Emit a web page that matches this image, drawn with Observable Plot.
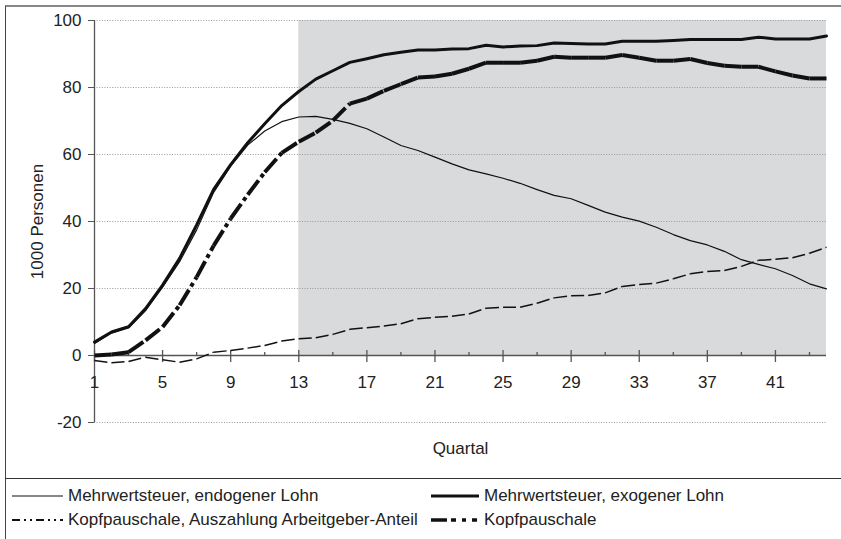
<!DOCTYPE html>
<html>
<head>
<meta charset="utf-8">
<script src="https://cdn.jsdelivr.net/npm/d3@7"></script>
<script src="https://cdn.jsdelivr.net/npm/@observablehq/plot@0.6"></script>
<style>
  html, body { margin: 0; padding: 0; background: #fff; width: 841px; height: 539px; overflow: hidden; }
  body { position: relative; font-family: "Liberation Sans", Arial, sans-serif; color: #222; }
  #chart { position: absolute; left: 0; top: 0; }
  #frame { position: absolute; left: 5px; top: 5px; width: 860px; height: 560px;
           border-top: 2px solid #888; border-left: 1.5px solid #444; box-sizing: border-box; pointer-events: none; }
  #sep { position: absolute; left: 5px; top: 478px; width: 860px; border-top: 1.5px solid #333; }
  .leg { position: absolute; display: flex; align-items: center; font-size: 17px; white-space: nowrap; }
  .leg svg { display: block; margin-right: 4px; }
</style>
</head>
<body>
<div id="chart"></div>
<div id="frame"></div>
<div id="sep"></div>
<div id="legend"></div>
<script>
// ---- data ----
const quarters = d3.range(1, 45); // Quartal 1..44
const mwstEndogen = [3.6, 6.7, 8.2, 13.4, 20.4, 28, 37.5, 48.7, 56.5, 62.8, 67, 69.8, 71.2, 71.4, 70.5, 69.3,
  67.7, 65.2, 62.7, 61.2, 59.2, 57.2, 55.4, 54.2, 52.9, 51.4, 49.5, 47.8, 46.8, 44.8, 42.8, 41.3, 40.1, 38.3,
  36.1, 34.3, 33, 31.1, 28.6, 27.2, 25.9, 23.9, 21.4, 19.9];
const mwstExogen = [4, 7, 8.6, 14, 21, 29, 39, 49.6, 57, 63.5, 69.2, 74.6, 78.8, 82.5, 85, 87.5,
  88.6, 89.8, 90.5, 91.2, 91.2, 91.5, 91.6, 92.6, 92.1, 92.4, 92.5, 93.3, 93.1, 93, 93, 93.8, 93.8, 93.8,
  94, 94.3, 94.3, 94.3, 94.3, 95, 94.5, 94.5, 94.5, 95.4];
const kopfAuszahlung = [-1.5, -2.2, -1.8, -0.5, -1.3, -2, -1, 1, 1.5, 2.2, 3, 4.3, 5, 5.3, 6.3, 7.8,
  8.3, 8.8, 9.5, 11, 11.4, 11.7, 12.4, 14.1, 14.4, 14.4, 15.6, 17.2, 17.8, 17.9, 18.7, 20.6, 21.2, 21.6,
  22.9, 24.4, 25.1, 25.4, 26.6, 28.4, 28.7, 29.2, 30.5, 32.3];
const kopfpauschale = [0, 0.3, 1, 4.5, 8.5, 15, 23.4, 32.8, 40.9, 48, 54.7, 60.5, 63.8, 66.5, 70.1, 75.2,
  76.7, 79, 81, 83, 83.3, 84.1, 85.6, 87.4, 87.4, 87.4, 88, 89.2, 88.9, 88.9, 88.9, 89.7, 88.9, 88, 88,
  88.5, 87.3, 86.5, 86.2, 86.2, 84.8, 83.6, 82.7, 82.7];

const seriesNames = ["Mehrwertsteuer, endogener Lohn", "Mehrwertsteuer, exogener Lohn",
  "Kopfpauschale, Auszahlung Arbeitgeber-Anteil", "Kopfpauschale"];
const yTicks = [-20, 0, 20, 40, 60, 80, 100];
const gridValues = [-20, 20, 40, 60, 80, 100];
const xLabelTicks = [1, 5, 9, 13, 17, 21, 25, 29, 33, 37, 41];
const xMinorTicks = [3, 7, 11, 15, 19, 23, 27, 31, 35, 39, 43];
const shadeQuarters = [13, 44];   // shaded period (Quartal 13 to end)
const shadeRange = [0, 100];
const axisValue = 0;

// ---- helpers ----
const toRows = (vals) => quarters.map((q, i) => ({q, v: vals[i]}));
const toSegs = (vals) => d3.pairs(toRows(vals)).map(([a, b]) => ({x1: a.q, y1: a.v, x2: b.q, y2: b.v}));

const ink = "#111";
const fs = 17;

const chart = Plot.plot({
  width: 841,
  height: 478,
  marginLeft: 94,
  marginRight: 15,
  marginTop: 20,
  marginBottom: 56,
  style: {fontFamily: "'Liberation Sans', Arial, sans-serif", fontSize: fs + "px", color: "#222", background: "transparent", overflow: "visible"},
  x: {domain: [1, 44], axis: null},
  y: {domain: [-20, 100], axis: null},
  marks: [
    Plot.rect([shadeQuarters], {x1: d => d[0], x2: d => d[1], y1: () => shadeRange[0], y2: () => shadeRange[1], fill: "#d9dadc"}),
    Plot.ruleY(gridValues, {x1: 1, x2: 44, stroke: "#9a9a9a", strokeWidth: 1, strokeDasharray: "1,1.6"}),
    Plot.ruleY([axisValue], {x1: 1, x2: 44, stroke: "#555", strokeWidth: 1.3}),
    Plot.ruleX([1], {y1: -20, y2: 100, stroke: "#555", strokeWidth: 1.3}),
    Plot.axisY({ticks: yTicks, tickSize: 6, tickPadding: 7, label: null, stroke: "#555", fontSize: fs, tickFormat: d => String(d)}),
    Plot.text(["1000 Personen"], {frameAnchor: "left", dx: -57, rotate: -90, textAnchor: "middle", lineAnchor: "middle", fontSize: fs, fill: "#222"}),
    // x-axis ticks on the zero line
    Plot.ruleX(xLabelTicks, {x: d => d, y1: () => axisValue, y2: () => axisValue, insetTop: -5, insetBottom: -7, stroke: "#555", strokeWidth: 1.3}),
    Plot.ruleX(xMinorTicks, {x: d => d, y1: () => axisValue, y2: () => axisValue, insetTop: -3, insetBottom: -1, stroke: "#555", strokeWidth: 1.3}),
    Plot.text(xLabelTicks, {x: d => d, y: () => axisValue, dy: 27, fontSize: fs, fill: "#222"}),
    Plot.text(["Quartal"], {frameAnchor: "bottom", dy: 31, fontSize: fs, fill: "#222"}),
    // series
    Plot.link(toSegs(kopfAuszahlung), {x1: "x1", y1: "y1", x2: "x2", y2: "y2", stroke: ink, strokeWidth: 1.5, strokeDasharray: "13,4", strokeLinecap: "butt"}),
    Plot.line(toRows(mwstEndogen), {x: "q", y: "v", stroke: ink, strokeWidth: 1.2, curve: "linear"}),
    Plot.line(toRows(mwstExogen), {x: "q", y: "v", stroke: ink, strokeWidth: 3, curve: "linear", strokeLinejoin: "round"}),
    Plot.link(toSegs(kopfpauschale), {x1: "x1", y1: "y1", x2: "x2", y2: "y2", stroke: ink, strokeWidth: 4, strokeDasharray: "18,4,4,4", strokeLinecap: "butt"})
  ]
});
document.getElementById("chart").appendChild(chart);

// ---- legend ----
const legendItems = [
  {name: seriesNames[0], left: 12, top: 485, w: 1.2, dash: null, len: 51},
  {name: seriesNames[1], left: 431, top: 485, w: 3, dash: null, len: 48},
  {name: seriesNames[2], left: 12, top: 509, w: 2, dash: "8,4,2,4,2,4", len: 51},
  {name: seriesNames[3], left: 431, top: 509, w: 3.5, dash: "16,4,5,6,4,6,5", len: 48}
];
const legend = document.getElementById("legend");
for (const it of legendItems) {
  const div = document.createElement("div");
  div.className = "leg";
  div.style.left = it.left + "px";
  div.style.top = it.top + "px";
  div.style.height = "22px";
  div.innerHTML = `<svg width="${it.len + 1}" height="10"><line x1="0" y1="5" x2="${it.len}" y2="5" stroke="${ink}" stroke-width="${it.w}" ${it.dash ? `stroke-dasharray="${it.dash}"` : ""}/></svg><span>${it.name}</span>`;
  legend.appendChild(div);
}
</script>
</body>
</html>
